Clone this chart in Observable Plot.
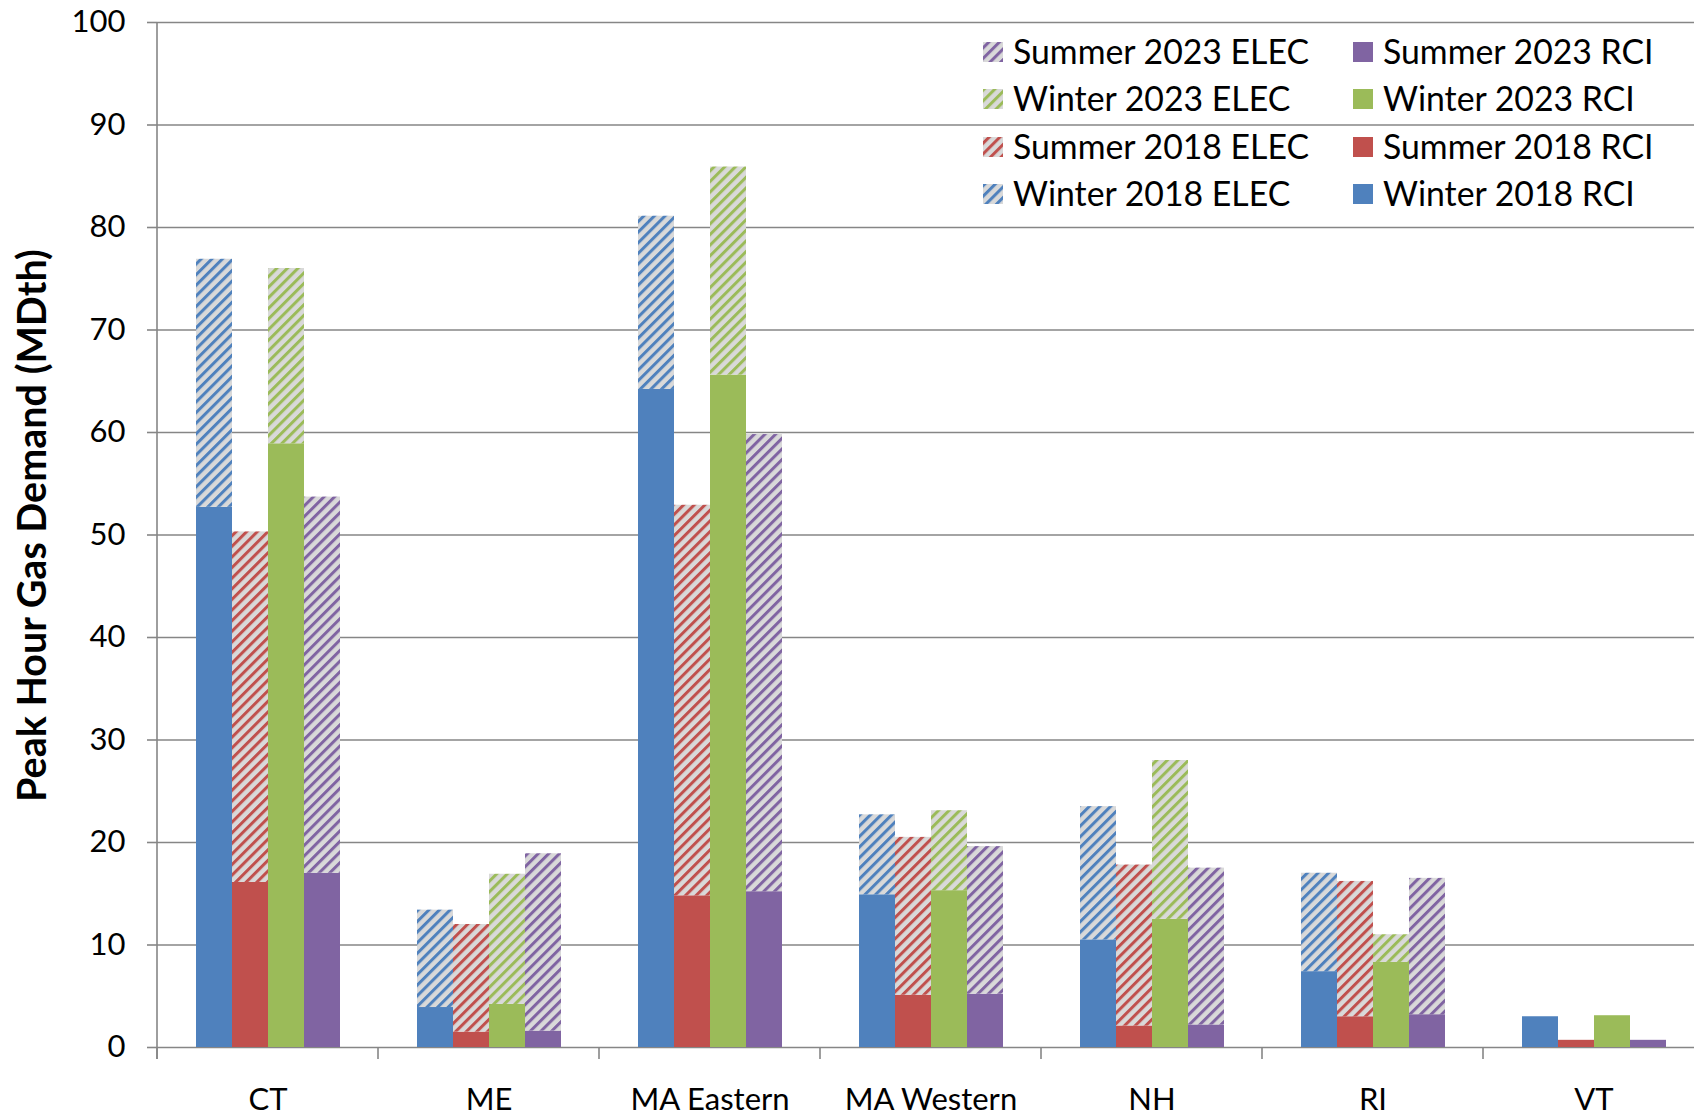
<!DOCTYPE html>
<html><head><meta charset="utf-8">
<script src="https://cdn.jsdelivr.net/npm/d3@7"></script>
<script src="https://cdn.jsdelivr.net/npm/@observablehq/plot@0.6"></script>
<style>
body{margin:0;background:#fff;}
#chart{position:relative;width:1694px;height:1118px;overflow:hidden;background:#fff;}
#chart svg{max-width:none !important;}
</style>
</head><body><div id="chart"></div><script>
// ---- data ----
const regions = ["CT","ME","MA Eastern","MA Western","NH","RI","VT"];
const seasons = ["Winter 2018","Summer 2018","Winter 2023","Summer 2023"];
const yTicks = [0,10,20,30,40,50,60,70,80,90,100];
const yTitle = "Peak Hour Gas Demand (MDth)";
// RCI (solid) and ELEC (hatched) components, per region
const winter2018RCI  = [52.7, 3.9, 64.2, 14.9, 10.5, 7.4, 3.0];
const winter2018ELEC = [24.2, 9.5, 16.9,  7.8, 13.0, 9.6, 0];
const summer2018RCI  = [16.1, 1.5, 14.8,  5.1,  2.1, 3.0, 0.7];
const summer2018ELEC = [34.2,10.5, 38.1, 15.4, 15.7,13.2, 0];
const winter2023RCI  = [58.9, 4.2, 65.6, 15.3, 12.5, 8.3, 3.1];
const winter2023ELEC = [17.1,12.7, 20.3,  7.8, 15.5, 2.7, 0];
const summer2023RCI  = [17.0, 1.6, 15.2,  5.2,  2.2, 3.2, 0.7];
const summer2023ELEC = [36.7,17.3, 44.6, 14.4, 15.3,13.3, 0];

const seriesColors = {"Winter 2018":"#4F81BD","Summer 2018":"#C0504D","Winter 2023":"#9BBB59","Summer 2023":"#8064A2"};
const seriesData = {
  "Winter 2018":[winter2018RCI, winter2018ELEC],
  "Summer 2018":[summer2018RCI, summer2018ELEC],
  "Winter 2023":[winter2023RCI, winter2023ELEC],
  "Summer 2023":[summer2023RCI, summer2023ELEC]
};
const legendOrder = [
  ["Summer 2023 ELEC","Summer 2023 RCI"],
  ["Winter 2023 ELEC","Winter 2023 RCI"],
  ["Summer 2018 ELEC","Summer 2018 RCI"],
  ["Winter 2018 ELEC","Winter 2018 RCI"]
];

// ---- table ----
const rows = [];
regions.forEach((r, i) => {
  seasons.forEach(s => {
    rows.push({region:r, season:s, type:"RCI", key:s+" RCI", value:seriesData[s][0][i]});
    rows.push({region:r, season:s, type:"ELEC", key:s+" ELEC", value:seriesData[s][1][i]});
  });
});
const pid = s => "hatch-" + s.replace(/\s+/g,"-");
const keys = [], fills = [];
seasons.forEach(s => {
  keys.push(s+" RCI"); fills.push(seriesColors[s]);
  keys.push(s+" ELEC"); fills.push(`url(#${pid(s)})`);
});

const FONT = "Lato, 'Open Sans', sans-serif";
const GRID = "#868686";

const chart = Plot.plot({
  width:1705, height:1118,
  marginLeft:155, marginRight:0, marginTop:22, marginBottom:71,
  style:{fontFamily:FONT, fontSize:"31px", color:"#000", background:"#fff", overflow:"visible", maxWidth:"none"},
  fx:{domain:regions, padding:0, label:null, axis:null},
  x:{domain:seasons, paddingInner:0, paddingOuter:1, axis:null},
  y:{domain:[0,100], axis:null},
  color:{domain:keys, range:fills},
  marks:[
    Plot.gridY(yTicks, {stroke:GRID, strokeOpacity:1, strokeWidth:1.6}),
    Plot.barY(rows, {fx:"region", x:"season", y:"value", fill:"key"}),
    Plot.axisY(yTicks, {anchor:"left", tickSize:10, tickPadding:22, stroke:GRID, strokeWidth:1.6, fill:"#000", fontSize:31, label:null}),
    Plot.axisFx({anchor:"bottom", tickSize:0, tickPadding:40, fill:"#000", fontSize:31, label:null})
  ]
});
chart.style.maxWidth = "none";
chart.style.width = "1705px";
chart.style.height = "1118px";

const svg = d3.select(chart);
// hatch patterns
const defs = svg.insert("defs", ":first-child");
seasons.forEach(s => {
  const p = defs.append("pattern").attr("id", pid(s)).attr("patternUnits","userSpaceOnUse")
    .attr("width",7.5).attr("height",7.5).attr("patternTransform","rotate(45)");
  p.append("rect").attr("width",7.5).attr("height",7.5).attr("fill","#D9D9D9");
  p.append("rect").attr("width",3).attr("height",7.5).attr("fill",seriesColors[s]);
});

const fx = chart.scale("fx"), y = chart.scale("y");
const x0 = fx.apply(regions[0]);
const y0 = y.apply(0), y100 = y.apply(100);
// y axis line
svg.append("line").attr("x1",x0).attr("x2",x0).attr("y1",y100).attr("y2",y0+12)
  .attr("stroke",GRID).attr("stroke-width",1.6);
// category boundary ticks
const bounds = regions.map(r => fx.apply(r)).concat([fx.apply(regions[regions.length-1]) + fx.bandwidth]);
bounds.forEach(bx => svg.append("line").attr("x1",bx).attr("x2",bx).attr("y1",y0).attr("y2",y0+12)
  .attr("stroke",GRID).attr("stroke-width",1.6));
// y title
svg.append("text").attr("transform",`translate(46,${(y0+y100)/2 - 9}) rotate(-90)`)
  .attr("text-anchor","middle").attr("font-family",FONT).attr("font-weight","bold")
  .attr("font-size",39.5).attr("fill","#000").text(yTitle);
// legend
const lg = svg.append("g").attr("font-family",FONT).attr("font-size",33.8).attr("fill","#000").attr("text-anchor","start");
const colX = [983, 1353], rowY = [52, 99, 147, 194];
legendOrder.forEach((row, ri) => row.forEach((k, ci) => {
  const fill = fills[keys.indexOf(k)];
  lg.append("rect").attr("x",colX[ci]).attr("y",rowY[ri]-10).attr("width",20).attr("height",20).attr("fill",fill);
  lg.append("text").attr("x",colX[ci]+30).attr("y",rowY[ri]).attr("dy","0.35em").attr("text-anchor","start").text(k);
}));

document.getElementById("chart").appendChild(chart);
</script></body></html>
